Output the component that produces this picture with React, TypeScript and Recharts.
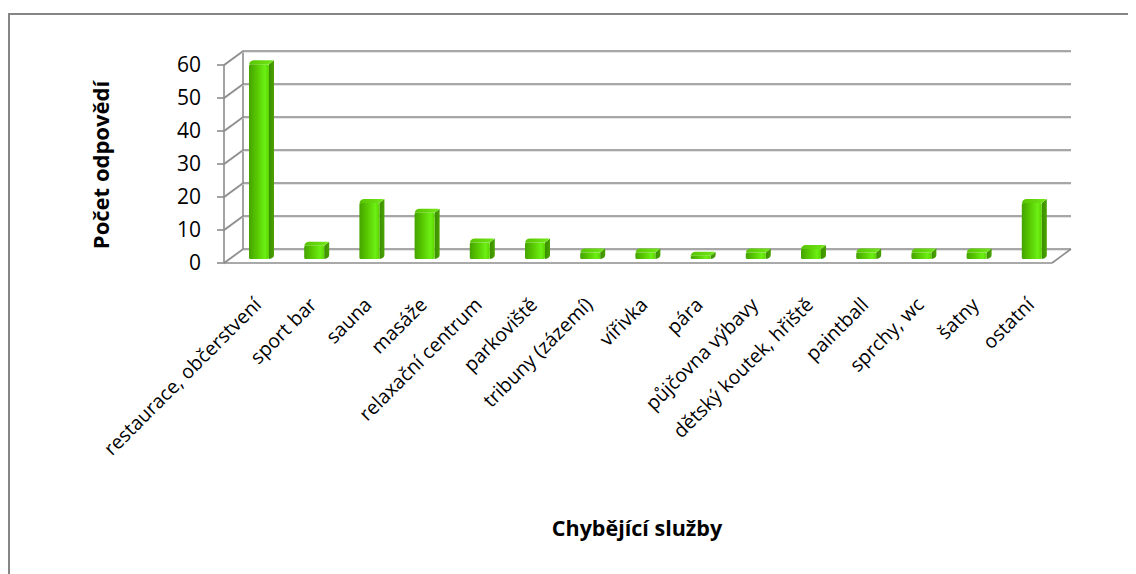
import React from 'react';
import { BarChart, Bar, XAxis, YAxis, CartesianGrid } from 'recharts';

const categories = [
  'restaurace, občerstvení',
  'sport bar',
  'sauna',
  'masáže',
  'relaxační centrum',
  'parkoviště',
  'tribuny (zázemí)',
  'vířivka',
  'pára',
  'půjčovna výbavy',
  'dětský koutek, hřiště',
  'paintball',
  'sprchy, wc',
  'šatny',
  'ostatní',
];
const counts = [59, 4, 17, 14, 5, 5, 2, 2, 1, 2, 3, 2, 2, 2, 17];
const yTicks = [0, 10, 20, 30, 40, 50, 60];
const yTitle = 'Počet odpovědí';
const xTitle = 'Chybějící služby';

const data = categories.map((name, i) => ({ name, value: counts[i] }));

const W = 1128;
const H = 566;
const M = { top: 57, right: 84, bottom: 111, left: 156 };
const Y_AXIS_W = 60;
const X_AXIS_H = 200;
const PLOT_TOP = M.top;
const PLOT_BOTTOM = H - M.bottom - X_AXIS_H;
const DX = 19;
const DY = 14;
const GRID = '#8c8c8c';
const FONT = '"Open Sans", Lato, sans-serif';

// bar 3D offsets
const OX = 7;
const OY = -4;
const BX = 5;
const BY = 4;

const gridLine = (props: any) => {
  const { x1, y1, x2 } = props;
  const isFloor = Math.abs(y1 - PLOT_BOTTOM) < 1;
  return (
    <g key={`gl-${y1}`}>
      <path
        d={`M${x1},${y1 + 1.2} L${x1 + DX},${y1 - DY + 1.2} L${x2 + DX},${y1 - DY + 1.2}`}
        fill="none"
        stroke="#dadada"
        strokeWidth={1}
      />
      <path
        d={`M${x1},${y1} L${x1 + DX},${y1 - DY} L${x2 + DX},${y1 - DY}`}
        fill="none"
        stroke={GRID}
        strokeWidth={1.6}
      />
      {isFloor && (
        <>
          <path d={`M${x2},${y1} L${x2 + DX},${y1 - DY}`} fill="none" stroke={GRID} strokeWidth={1.6} />
          <path
            d={`M${x1 + DX},${PLOT_TOP - DY} L${x1 + DX},${y1 - DY}`}
            fill="none"
            stroke={GRID}
            strokeWidth={1.6}
          />
        </>
      )}
    </g>
  );
};

const Bar3D = (props: any) => {
  const { x, y, width, height, index } = props;
  const fx = x + OX;
  const fy = y + OY;
  const w = width;
  const h = Math.max(height, 0);
  const fid = `bf-${index}`;
  const sid = `bs-${index}`;
  const tid = `bt-${index}`;
  return (
    <g>
      <defs>
        <linearGradient id={fid} x1="0" y1="0" x2="1" y2="0">
          <stop offset="0%" stopColor="#45a300" />
          <stop offset="35%" stopColor="#56c400" />
          <stop offset="80%" stopColor="#6cf014" />
          <stop offset="100%" stopColor="#5cd400" />
        </linearGradient>
        <linearGradient id={sid} x1="0" y1="0" x2="1" y2="0">
          <stop offset="0%" stopColor="#3b8e00" />
          <stop offset="100%" stopColor="#4aa300" />
        </linearGradient>
        <linearGradient id={tid} x1="0" y1="0" x2="1" y2="0">
          <stop offset="0%" stopColor="#58c400" />
          <stop offset="100%" stopColor="#72e81a" />
        </linearGradient>
      </defs>
      <path
        d={`M${fx + w},${fy} L${fx + w + BX},${fy - BY} L${fx + w + BX},${fy + h - BY} Q${fx + w + BX},${fy + h - 1} ${fx + w},${fy + h} Z`}
        fill={`url(#${sid})`}
      />
      <path
        d={`M${fx},${fy} Q${fx + 1},${fy - BY} ${fx + BX},${fy - BY} L${fx + w + BX - 1},${fy - BY} Q${fx + w + BX},${fy - BY} ${fx + w},${fy} Z`}
        fill={`url(#${tid})`}
      />
      <rect x={fx} y={fy} width={w} height={h} rx={1.5} fill={`url(#${fid})`} />
    </g>
  );
};

const XTick = (props: any) => {
  const { x, payload } = props;
  const ax = x + 11;
  const ay = PLOT_BOTTOM + 43;
  return (
    <text
      x={ax}
      y={ay}
      transform={`rotate(-45, ${ax}, ${ay})`}
      textAnchor="end"
      fontSize={19.5}
      fontFamily={FONT}
      fill="#000"
    >
      {payload.value}
    </text>
  );
};

const YTitle = () => (
  <text
    x={101}
    y={157}
    transform="rotate(-90, 101, 157)"
    textAnchor="middle"
    fontSize={22}
    fontWeight="bold"
    fontFamily={FONT}
    fill="#000"
  >
    {yTitle}
  </text>
);

const XTitle = () => (
  <text x={629} y={528} textAnchor="middle" fontSize={21.5} fontWeight="bold" fontFamily={FONT} fill="#000">
    {xTitle}
  </text>
);

export default function App() {
  return (
    <div style={{ position: 'relative', width: W, height: H, fontFamily: FONT }}>
      <div
        style={{
          position: 'absolute',
          left: 0,
          top: 5,
          width: W,
          height: H - 5,
          boxSizing: 'border-box',
          borderTop: '2px solid #858585',
          borderLeft: '2px solid #858585',
        }}
      />
      <div style={{ position: 'absolute', left: 0, top: 0 }}>
        <BarChart width={W} height={H} data={data} margin={M} barSize={20}>
          <CartesianGrid vertical={false} horizontal={gridLine} />
          <XAxis
            dataKey="name"
            interval={0}
            height={X_AXIS_H}
            tickLine={false}
            tickSize={0}
            tickMargin={0}
            axisLine={{ stroke: GRID, strokeWidth: 1.6 }}
            tick={<XTick />}
            label={{ content: () => <XTitle /> }}
          />
          <YAxis
            width={Y_AXIS_W}
            domain={[0, 60]}
            ticks={yTicks}
            interval={0}
            tickSize={7}
            tickMargin={16}
            axisLine={{ stroke: GRID, strokeWidth: 1.6 }}
            tickLine={{ stroke: GRID, strokeWidth: 1.6 }}
            tick={{ fill: '#000', fontSize: 21, fontFamily: FONT }}
            label={{ content: () => <YTitle /> }}
          />
          <Bar dataKey="value" shape={<Bar3D />} isAnimationActive={false} />
        </BarChart>
      </div>
    </div>
  );
}
